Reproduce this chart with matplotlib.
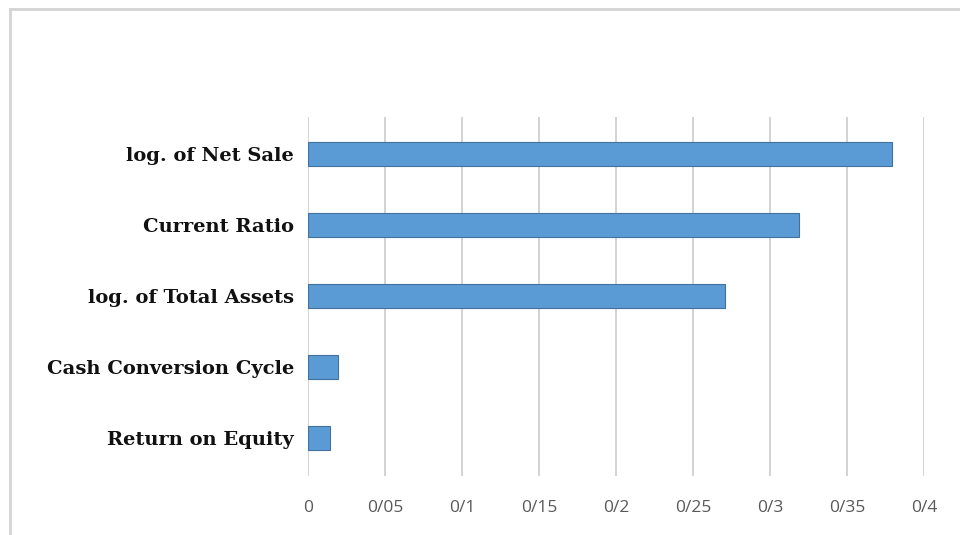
import matplotlib
matplotlib.use("Agg")
import matplotlib.pyplot as plt
from matplotlib.lines import Line2D

labels = ["Return on Equity", "Cash Conversion Cycle", "log. of Total Assets",
          "Current Ratio", "log. of Net Sale"]
values = [0.014, 0.0195, 0.271, 0.319, 0.379]
xticks = [0, 0.05, 0.1, 0.15, 0.2, 0.25, 0.3, 0.35, 0.4]
xtick_labels = ["0", "0/05", "0/1", "0/15", "0/2", "0/25", "0/3", "0/35", "0/4"]

fig = plt.figure(figsize=(9.6, 5.35), dpi=100)
ax = fig.add_axes([308 / 960, 1 - 476 / 535, (924 - 308) / 960, (476 - 117) / 535])

ax.barh(range(len(labels)), values, height=0.34, color="#5b9bd5",
        edgecolor="#41719c", linewidth=0.8, zorder=3)

ax.set_xlim(0, 0.4)
ax.set_ylim(-0.53, 4.52)
ax.set_xticks(xticks)
ax.set_xticklabels(xtick_labels, family="Open Sans", fontsize=12.5, color="#595959")
ax.set_yticks(range(len(labels)))
ax.set_yticklabels(labels, family="DejaVu Serif", fontweight="bold",
                   fontsize=14, color="#111111")
ax.tick_params(axis="both", length=0)
ax.tick_params(axis="x", pad=17)
ax.tick_params(axis="y", pad=10)
ax.xaxis.grid(True, color="#d0d0d0", linewidth=1.3, zorder=0)
for s in ax.spines.values():
    s.set_visible(False)

# frame around the chart area (left and top edges)
fig.add_artist(Line2D([10 / 960, 10 / 960], [0, 1 - 9 / 535],
                      transform=fig.transFigure, color="#d4d4d4", linewidth=2))
fig.add_artist(Line2D([10 / 960, 1], [1 - 9 / 535, 1 - 9 / 535],
                      transform=fig.transFigure, color="#d4d4d4", linewidth=2))

fig.savefig("out.png", dpi=100)
